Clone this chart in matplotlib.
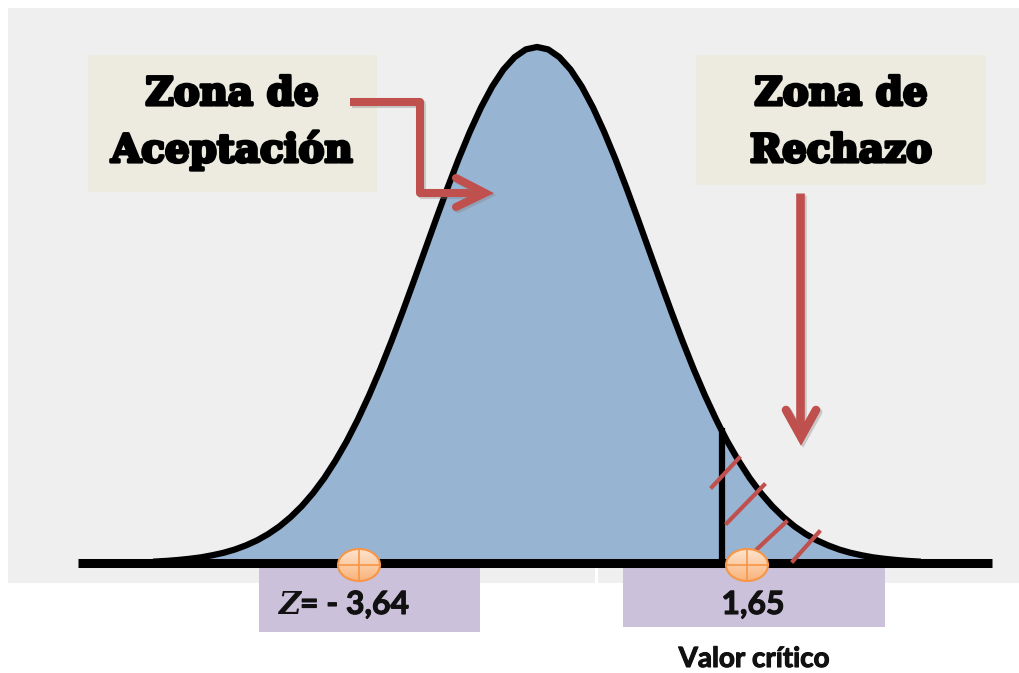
import matplotlib
matplotlib.use("Agg")
import matplotlib.pyplot as plt
import numpy as np
from matplotlib.patches import Rectangle, Ellipse
from matplotlib.transforms import Affine2D
import matplotlib.patheffects as pe

# curva normal: valores z y densidad
z = [-3.4, -3.3, -3.2, -3.1, -3.0, -2.9, -2.8, -2.7, -2.6, -2.5, -2.4, -2.3, -2.2, -2.1,
     -2.0, -1.9, -1.8, -1.7, -1.6, -1.5, -1.4, -1.3, -1.2, -1.1, -1.0, -0.9, -0.8, -0.7,
     -0.6, -0.5, -0.4, -0.3, -0.2, -0.1, 0.0, 0.1, 0.2, 0.3, 0.4, 0.5, 0.6, 0.7, 0.8,
     0.9, 1.0, 1.1, 1.2, 1.3, 1.4, 1.5, 1.6, 1.65, 1.7, 1.8, 1.9, 2.0, 2.1, 2.2, 2.3,
     2.4, 2.5, 2.6, 2.7, 2.8, 2.9, 3.0, 3.1, 3.2, 3.3, 3.4]
densidad = [0.0012, 0.0017, 0.0024, 0.0033, 0.0044, 0.0060, 0.0079, 0.0104, 0.0136,
            0.0175, 0.0224, 0.0283, 0.0355, 0.0440, 0.0540, 0.0656, 0.0790, 0.0940,
            0.1109, 0.1295, 0.1497, 0.1714, 0.1942, 0.2179, 0.2420, 0.2661, 0.2897,
            0.3123, 0.3332, 0.3521, 0.3683, 0.3814, 0.3910, 0.3970, 0.3989, 0.3970,
            0.3910, 0.3814, 0.3683, 0.3521, 0.3332, 0.3123, 0.2897, 0.2661, 0.2420,
            0.2179, 0.1942, 0.1714, 0.1497, 0.1295, 0.1109, 0.1023, 0.0940, 0.0790,
            0.0656, 0.0540, 0.0440, 0.0355, 0.0283, 0.0224, 0.0175, 0.0136, 0.0104,
            0.0079, 0.0060, 0.0044, 0.0033, 0.0024, 0.0017, 0.0012]
z_critico = 1.65
dens_critico = 0.1023

etiqueta_aceptacion = ["Zona de", "Aceptación"]
etiqueta_rechazo = ["Zona de", "Rechazo"]
etiqueta_z = "= - 3,64"
etiqueta_critico = "1,65"
etiqueta_valor = "Valor crítico"

ROJO = "#C0504D"
AZUL = "#98B4D3"
BEIGE = "#EDEBE0"
LILA = "#CCC1DA"
NARANJA = "#F79646"

W, H = 1019, 673
fig = plt.figure(figsize=(W / 100, H / 100), dpi=100)
fig.patch.set_facecolor("white")
ax = fig.add_axes([0, 0, 1, 1])
XL, YL = (-4.795, 4.304), (-0.0850, 0.4352)

# coordenadas en pixeles (origen arriba a la izquierda) para los adornos
pix = Affine2D().scale(1 / W, -1 / H).translate(0, 1) + fig.transFigure

# fondos
ax.add_patch(Rectangle((8, 8), W - 8, 575, transform=pix, fc="#EFEFEF", lw=0, zorder=0))
ax.add_patch(Rectangle((595, 568), 3, 16, transform=pix, fc="white", lw=0, zorder=0.5))
ax.add_patch(Rectangle((259, 568), 221, 64, transform=pix, fc=LILA, lw=0, zorder=1))
ax.add_patch(Rectangle((623, 568), 262, 59, transform=pix, fc=LILA, lw=0, zorder=1))
ax.add_patch(Rectangle((88, 55), 289, 137, transform=pix, fc=BEIGE, lw=0, zorder=1))
ax.add_patch(Rectangle((696, 55), 290, 130, transform=pix, fc=BEIGE, lw=0, zorder=1))

# curva
ax.fill_between(z, densidad, 0, color=AZUL, lw=0, zorder=2)
ax.plot(z, densidad, color="black", lw=4.5, solid_joinstyle="round", zorder=3)
ax.plot([z_critico, z_critico], [0, dens_critico], color="black", lw=4.5, zorder=3)
ax.axhline(0, 78 / W, 992 / W, color="black", lw=6.5, solid_capstyle="butt", zorder=4)

# rayas de la zona de rechazo
for (x0, y0), (x1, y1) in [((712, 487), (739, 458)), ((727, 523), (764, 485)),
                           ((756, 550), (786, 522)), ((793, 561), (819, 532))]:
    ax.plot([x0, x1], [y0, y1], color=ROJO, lw=3, transform=pix, zorder=5)

# flechas
sombra = [pe.SimpleLineShadow(offset=(1.5, -1.5), shadow_color="gray", alpha=0.35), pe.Normal()]
ax.plot([350, 420, 420, 480], [102, 102, 193, 193], color=ROJO, lw=5.8,
        solid_joinstyle="round", solid_capstyle="butt", transform=pix, zorder=6,
        path_effects=sombra)
ax.plot([456, 485, 456], [178, 193, 207], color=ROJO, lw=5.8,
        solid_joinstyle="miter", solid_capstyle="round", transform=pix, zorder=6,
        path_effects=sombra)
ax.plot([800, 800], [193, 432], color=ROJO, lw=6.2,
        solid_capstyle="butt", transform=pix, zorder=6, path_effects=sombra)
ax.plot([786, 801, 816], [410, 437, 410], color=ROJO, lw=6.2,
        solid_joinstyle="miter", solid_capstyle="round", transform=pix, zorder=6,
        path_effects=sombra)

# marcadores naranjas con degradado
grad = np.linspace(0, 1, 32).reshape(-1, 1)
cmap = matplotlib.colors.LinearSegmentedColormap.from_list("nar", ["#FDE3CD", "#F9B47C"])
for cx in (359, 747):
    elipse = Ellipse((cx, 565), 42, 32, transform=pix, fc="none",
                     ec=NARANJA, lw=1.5, zorder=8)
    ax.add_patch(elipse)
    img = ax.imshow(grad, cmap=cmap, aspect="auto", extent=(cx - 21, cx + 21, 581, 549),
                    transform=pix, zorder=7, interpolation="bilinear")
    img.set_clip_path(elipse)
    ax.plot([cx, cx], [549, 581], color=NARANJA, lw=1.2, transform=pix, zorder=8)
    ax.plot([cx - 21, cx + 21], [565, 565], color=NARANJA, lw=1.2, transform=pix, zorder=8)

# textos de las cajas
titulo = dict(family="DejaVu Serif", weight="bold", size=28, ha="center",
              va="baseline", transform=pix, zorder=9,
              path_effects=[pe.withStroke(linewidth=2.3, foreground="black")])
for i, t in enumerate(etiqueta_aceptacion):
    ax.text(232, 105 + 57 * i, t, **titulo)
for i, t in enumerate(etiqueta_rechazo):
    ax.text(841, 105 + 57 * i, t, **titulo)

# etiquetas de abajo
grueso = [pe.withStroke(linewidth=0.8, foreground="#111111")]
ax.text(278, 614, "Z", family="DejaVu Serif", style="italic", weight="bold",
        size=22, va="baseline", transform=pix, zorder=9, color="#111111")
ax.text(300, 614, etiqueta_z, family="Lato", weight="bold", size=23, color="#111111",
        va="baseline", transform=pix, zorder=9, path_effects=grueso)
ax.text(753, 614, etiqueta_critico, family="Lato", weight="bold", size=23, color="#111111",
        ha="center", va="baseline", transform=pix, zorder=9, path_effects=grueso)
ax.text(754, 667, etiqueta_valor, family="Lato", weight="bold", size=20, color="#111111",
        ha="center", va="baseline", transform=pix, zorder=9, path_effects=grueso)

ax.set_xlim(*XL)
ax.set_ylim(*YL)
ax.axis("off")

fig.savefig("out.png", dpi=100, facecolor="white")
